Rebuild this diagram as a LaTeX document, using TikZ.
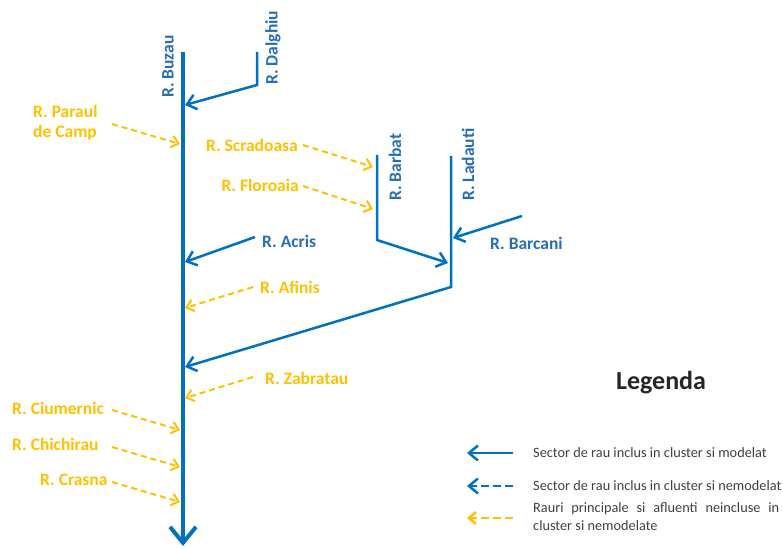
\documentclass[tikz,border=0pt]{standalone}
\usepackage{fontspec}
\setmainfont{Carlito}
\usetikzlibrary{arrows.meta}
\definecolor{rivblue}{RGB}{0,112,192}
\definecolor{labblue}{RGB}{40,110,180}
\definecolor{unmod}{RGB}{255,192,0}
\definecolor{legtxt}{RGB}{64,64,64}

\begin{document}
\begin{tikzpicture}[x=1pt, y=-1pt,
  main/.style={rivblue, line width=4pt, -{Straight Barb[length=16pt, width=26pt]}},
  trib/.style={rivblue, line width=2.5pt, -{Straight Barb[length=9pt, width=15pt]}},
  tribdash/.style={trib, dash pattern=on 8pt off 4pt},
  ext/.style={unmod, line width=2pt, dash pattern=on 6pt off 4pt, -{Straight Barb[length=7pt, width=12pt]}},
  lblue/.style={labblue, font=\fontsize{17.5}{19}\selectfont\bfseries, inner sep=0pt},
  lyel/.style={unmod, font=\fontsize{17.5}{20}\selectfont\bfseries, inner sep=0pt},
  legtext/.style={legtxt, font=\fontsize{14.3}{18}\selectfont, inner sep=0pt, anchor=west}]
\useasboundingbox (0,0) rectangle (783,548);

% R. Buzau
\coordinate (buzT) at (183,52);
\coordinate (buzE) at (183,546);
\draw[main] (buzT) -- (buzE);
\node[lblue, rotate=90, anchor=west] (buz) at (168,98) {R. Buzau};

% R. Dalghiu
\coordinate (dalT) at (257,52);
\coordinate (dalB) at (257,85);
\coordinate (j1) at (185,105);
\draw[trib] (dalT) -- (dalB) -- (j1);
\node[lblue, rotate=90, anchor=west] (dal) at (273,85) {R. Dalghiu};

% R. Barbat
\coordinate (barT) at (377,155);
\coordinate (barB) at (377,240);
\coordinate (j2) at (448,263);
\draw[trib] (barT) -- (barB) -- (j2);
\node[lblue, rotate=90, anchor=west] (bar) at (395,201) {R. Barbat};

% R. Ladauti
\coordinate (ladT) at (451,156);
\coordinate (ladB) at (451,287);
\coordinate (j3) at (185,367);
\draw[trib] (ladT) -- (ladB) -- (j3);
\node[lblue, rotate=90, anchor=west] (lad) at (468,201) {R. Ladauti};

% R. Barcani
\coordinate (bcS) at (522,216);
\coordinate (bcE) at (453,238);
\draw[trib] (bcS) -- (bcE);
\node[lblue, anchor=west] (bc) at (490,243) {R. Barcani};

% R. Acris
\coordinate (acS) at (255,237);
\coordinate (acE) at (185,262);
\draw[trib] (acS) -- (acE);
\node[lblue, anchor=west] (ac) at (262,241) {R. Acris};

% not modelled tributaries
\node[lyel, anchor=west, align=left] (par) at (33,123) {R. Paraul\\de Camp};
\coordinate (parS) at (112,124);
\coordinate (parE) at (180,144);
\draw[ext] (parS) -- (parE);

\node[lyel, anchor=east] (scr) at (298,145) {R. Scradoasa};
\coordinate (scrS) at (303,145);
\coordinate (scrE) at (373,167);
\draw[ext] (scrS) -- (scrE);

\node[lyel, anchor=east] (flo) at (299,185) {R. Floroaia};
\coordinate (floS) at (303,186);
\coordinate (floE) at (373,209);
\draw[ext] (floS) -- (floE);

\node[lyel, anchor=west] (afi) at (260,287) {R. Afinis};
\coordinate (afiS) at (253,287);
\coordinate (afiE) at (185,308);
\draw[ext] (afiS) -- (afiE);

\node[lyel, anchor=west] (zab) at (265,378) {R. Zabratau};
\coordinate (zabS) at (253,377);
\coordinate (zabE) at (185,398);
\draw[ext] (zabS) -- (zabE);

\node[lyel, anchor=west] (ciu) at (12,408) {R. Ciumernic};
\coordinate (ciuS) at (112,410);
\coordinate (ciuE) at (180,430);
\draw[ext] (ciuS) -- (ciuE);

\node[lyel, anchor=west] (chi) at (12,444) {R. Chichirau};
\coordinate (chiS) at (112,447);
\coordinate (chiE) at (180,467);
\draw[ext] (chiS) -- (chiE);

\node[lyel, anchor=west] (cra) at (40,480) {R. Crasna};
\coordinate (craS) at (112,482);
\coordinate (craE) at (180,502);
\draw[ext] (craS) -- (craE);

% Legenda
\node[font=\fontsize{26}{30}\selectfont\bfseries, text=black!85, inner sep=0pt] (leg) at (661,383) {Legenda};
\coordinate (lg1a) at (513,453); \coordinate (lg1b) at (467,453);
\coordinate (lg2a) at (513,486); \coordinate (lg2b) at (467,486);
\coordinate (lg3a) at (513,518); \coordinate (lg3b) at (467,518);
\draw[trib] (lg1a) -- (lg1b);
\draw[tribdash] (lg2a) -- (lg2b);
\draw[ext, line width=2.5pt, dash pattern=on 8pt off 4pt] (lg3a) -- (lg3b);
\node[legtext] (lt1) at (533,453) {Sector de rau inclus in cluster si modelat};
\node[legtext] (lt2) at (533,486) {Sector de rau inclus in cluster si nemodelat};
\node[legtext, anchor=north west, text width=246pt, align=justify] (lt3) at (533,502)
  {Rauri principale si afluenti neincluse in\linebreak cluster si nemodelate};
\end{tikzpicture}
\end{document}
